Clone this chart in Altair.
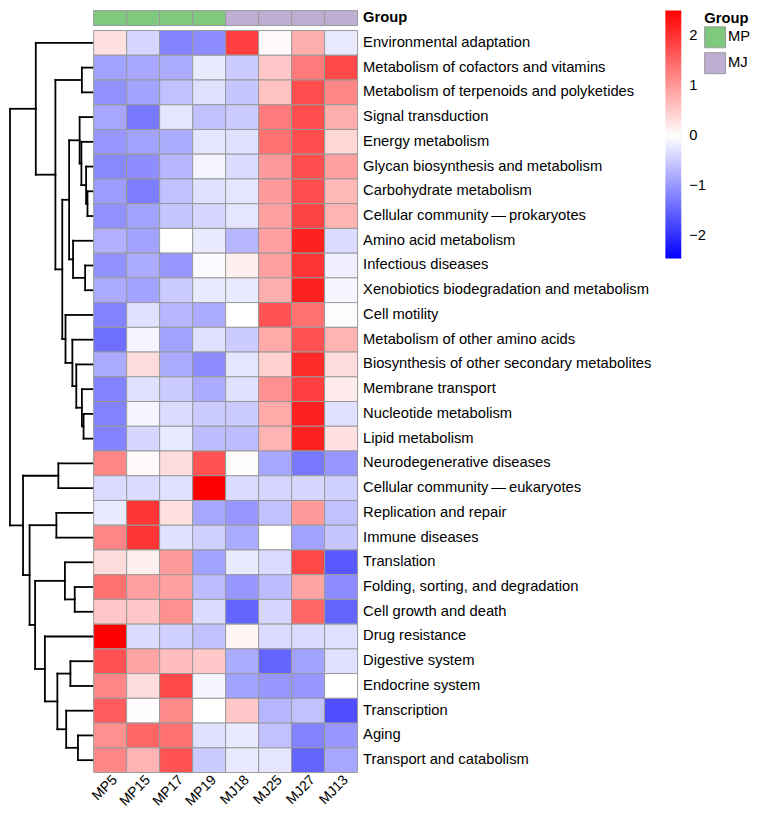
import altair as alt
import pandas as pd

samples = ["MP5", "MP15", "MP17", "MP19", "MJ18", "MJ25", "MJ27", "MJ13"]
sample_groups = ["MP", "MP", "MP", "MP", "MJ", "MJ", "MJ", "MJ"]

pathways = [
    "Environmental adaptation",
    "Metabolism of cofactors and vitamins",
    "Metabolism of terpenoids and polyketides",
    "Signal transduction",
    "Energy metabolism",
    "Glycan biosynthesis and metabolism",
    "Carbohydrate metabolism",
    "Cellular community\u2009\u2014\u2009prokaryotes",
    "Amino acid metabolism",
    "Infectious diseases",
    "Xenobiotics biodegradation and metabolism",
    "Cell motility",
    "Metabolism of other amino acids",
    "Biosynthesis of other secondary metabolites",
    "Membrane transport",
    "Nucleotide metabolism",
    "Lipid metabolism",
    "Neurodegenerative diseases",
    "Cellular community\u2009\u2014\u2009eukaryotes",
    "Replication and repair",
    "Immune diseases",
    "Translation",
    "Folding, sorting, and degradation",
    "Cell growth and death",
    "Drug resistance",
    "Digestive system",
    "Endocrine system",
    "Transcription",
    "Aging",
    "Transport and catabolism",
]

MP5 = [0.3, -0.9, -1.05, -0.85, -1.0, -1.15, -0.95, -1.05, -0.75, -1.05, -0.8, -1.2, -1.4, -0.8, -1.2,
       -1.2, -1.2, 1.2, -0.35, -0.2, 1.2, 0.35, 1.4, 0.55, 2.52, 1.7, 1.2, 1.6, 1.1, 1.2]
MP15 = [-0.4, -0.85, -0.9, -1.3, -0.9, -1.1, -1.25, -0.9, -0.9, -0.8, -0.9, -0.3, -0.1, 0.35, -0.3,
        -0.1, -0.4, 0.05, -0.35, 2.0, 2.0, 0.15, 0.95, 0.55, -0.35, 0.9, 0.35, 0.02, 1.5, 0.75]
MP17 = [-1.2, -0.8, -0.6, -0.25, -0.8, -0.7, -0.6, -0.55, 0.0, -1.0, -0.5, -0.7, -0.9, -0.8, -0.5,
        -0.35, -0.2, 0.35, -0.3, 0.3, -0.3, 1.0, 0.95, 1.1, -0.45, 0.65, 1.8, 1.15, 1.4, 1.7]
MP19 = [-1.1, -0.2, -0.3, -0.6, -0.25, -0.1, -0.3, -0.4, -0.2, -0.05, -0.2, -0.8, -0.3, -1.1, -0.8,
        -0.5, -0.65, 1.7, 2.52, -0.85, -0.45, -0.9, -0.65, -0.35, -0.6, 0.55, -0.1, 0.0, -0.3, -0.5]
MJ18 = [1.9, -0.5, -0.55, -0.5, -0.3, -0.35, -0.25, -0.25, -0.7, 0.15, -0.2, 0.0, -0.5, -0.25, -0.3,
        -0.5, -0.65, 0.03, -0.35, -1.0, -0.8, -0.2, -1.0, -1.5, 0.1, -0.8, -0.9, 0.55, -0.2, -0.2]
MJ25 = [0.05, 0.55, 0.6, 1.3, 1.4, 1.0, 1.0, 0.95, 0.95, 0.95, 0.8, 1.7, 0.85, 0.45, 1.1,
        0.85, 0.75, -0.85, -0.4, -0.6, 0.0, -0.35, -0.65, -0.4, -0.35, -1.5, -1.0, -0.7, -0.6, -0.25]
MJ27 = [0.8, 1.3, 1.75, 1.75, 1.75, 1.75, 1.75, 1.85, 2.2, 2.0, 2.2, 1.4, 1.7, 2.1, 1.9,
        2.2, 2.2, -1.3, -0.4, 1.0, -0.9, 1.8, 0.9, 1.5, -0.35, -0.9, -1.0, -0.6, -1.2, -1.5]
MJ13 = [-0.2, 1.8, 1.2, 0.8, 0.4, 0.95, 0.7, 0.75, -0.35, -0.15, -0.1, -0.03, 0.75, 0.35, 0.2,
        -0.3, 0.3, -1.0, -0.45, -0.6, -0.55, -1.6, -1.1, -1.5, -0.3, -0.3, 0.0, -1.7, -1.0, -0.85]

sample_values = {"MP5": MP5, "MP15": MP15, "MP17": MP17, "MP19": MP19,
                 "MJ18": MJ18, "MJ25": MJ25, "MJ27": MJ27, "MJ13": MJ13}

# row dendrogram merges: (node, left child, right child, merge height)
# children are row indices (leaves) or earlier node names
dend_merges = [
    ("a", 1, 2, 12.0),
    ("g", 6, 7, 6.3),
    ("f", 5, "g", 7.7),
    ("e", 4, "f", 12.5),
    ("b1", 3, "e", 14.3),
    ("h", 9, 10, 8.7),
    ("b2", 8, "h", 21.0),
    ("b", "b1", "b2", 25.0),
    ("l", 15, 16, 10.3),
    ("k", 14, "l", 12.0),
    ("j", 13, "k", 17.7),
    ("i", 12, "j", 21.7),
    ("c", 11, "i", 28.7),
    ("A", "b", "c", 32.0),
    ("n1", "a", "A", 39.0),
    ("n0", 0, "n1", 59.0),
    ("p", 17, 18, 36.0),
    ("s", 19, 20, 38.0),
    ("v", 22, 23, 19.3),
    ("u", 21, "v", 29.3),
    ("y", 25, 26, 23.7),
    ("aa", 28, 29, 16.0),
    ("z", 27, "aa", 28.0),
    ("x", "y", "z", 37.0),
    ("w", 24, "x", 49.7),
    ("t", "u", "w", 59.7),
    ("r", "s", "t", 65.3),
    ("q", "p", "r", 72.0),
    ("root", "n0", "q", 85.3),
]

FONT = "Liberation Sans"
FS = 14.8
n_rows = len(pathways)
cell_h = 745 / n_rows
top_extra = (15 + 5) / cell_h + 0.5

# --- heatmap data
heat_rows = []
for s in samples:
    for i, p in enumerate(pathways):
        heat_rows.append({"sample": s, "pathway": p, "value": sample_values[s][i]})
heat_df = pd.DataFrame(heat_rows)

grp_df = pd.DataFrame({"sample": samples, "Group": sample_groups, "lab": ["Group"] * len(samples)})

# --- dendrogram segments
pos = {i: float(i) for i in range(n_rows)}
hgt = {i: 0.0 for i in range(n_rows)}
segs = []
for name, l, r, h in dend_merges:
    segs.append({"x": h, "x2": h, "y": pos[l], "y2": pos[r]})
    segs.append({"x": h, "x2": hgt[l], "y": pos[l], "y2": pos[l]})
    segs.append({"x": h, "x2": hgt[r], "y": pos[r], "y2": pos[r]})
    pos[name] = (pos[l] + pos[r]) / 2
    hgt[name] = h
seg_df = pd.DataFrame(segs)

dendro = alt.Chart(seg_df).mark_rule(color="black", strokeWidth=1.8, strokeCap="square").encode(
    x=alt.X("x:Q", scale=alt.Scale(domain=[0, 85.3], reverse=True, nice=False, zero=False), axis=None),
    x2="x2:Q",
    y=alt.Y("y:Q", scale=alt.Scale(domain=[-top_extra, n_rows - 0.5], reverse=True, nice=False, zero=False),
            axis=None),
    y2="y2:Q",
).properties(width=84, height=765)

grp = alt.Chart(grp_df).mark_rect(stroke="#999999", strokeWidth=1).encode(
    x=alt.X("sample:N", sort=samples, axis=None, scale=alt.Scale(paddingInner=0, paddingOuter=0)),
    y=alt.Y("lab:N", axis=alt.Axis(orient="right", title=None, ticks=False, domain=False,
                                   labelFontWeight="bold", labelFontSize=FS, labelPadding=5,
                                   labelColor="black", labelFont=FONT)),
    color=alt.Color("Group:N", sort=["MP", "MJ"],
                    scale=alt.Scale(domain=["MP", "MJ"], range=["#7FC97F", "#BEAED4"]),
                    legend=alt.Legend(orient="none", legendX=697, legendY=0, title="Group",
                                      titleFontWeight="bold", titleFontSize=FS, titleFont=FONT,
                                      titleColor="black", titlePadding=1,
                                      labelFontSize=FS, labelFont=FONT, labelColor="black",
                                      symbolType="square", symbolSize=441, symbolStrokeColor="#999999",
                                      symbolStrokeWidth=1, symbolOpacity=1, rowPadding=0,
                                      labelOffset=2, padding=0)),
).properties(width=265, height=15)

heat = alt.Chart(heat_df).mark_rect(stroke="#999999", strokeWidth=1).encode(
    x=alt.X("sample:N", sort=samples, scale=alt.Scale(paddingInner=0, paddingOuter=0),
            axis=alt.Axis(title=None, labelAngle=315, ticks=False, domain=False, labelFontSize=14,
                          labelPadding=0, labelColor="black", labelFont=FONT)),
    y=alt.Y("pathway:N", sort=pathways, scale=alt.Scale(paddingInner=0, paddingOuter=0),
            axis=alt.Axis(orient="right", title=None, ticks=False, domain=False, labelFontSize=FS,
                          labelPadding=5, labelColor="black", labelFont=FONT, labelLimit=400)),
    fill=alt.Fill("value:Q",
                  scale=alt.Scale(domain=[-2.46, 0, 2.52], range=["#0000ff", "#ffffff", "#ff0000"],
                                  interpolate="rgb"),
                  legend=alt.Legend(orient="none", legendX=658, legendY=0, title=None,
                                    gradientLength=249, gradientThickness=16, gradientStrokeWidth=0,
                                    values=[-2, -1, 0, 1, 2], labelFontSize=FS, labelFont=FONT,
                                    labelColor="black", labelOffset=8, labelOverlap=False,
                                    labelExpr="replace(datum.label, '-', '\u2212')", padding=0,
                                    direction="vertical")),
).properties(width=265, height=745)

right = alt.vconcat(grp, heat, spacing=5, bounds="flush")
chart = alt.hconcat(dendro, right, spacing=0, bounds="flush").properties(
    padding={"left": 0, "top": 0, "right": 0, "bottom": 0}
).configure(font=FONT, background="white").configure_view(strokeWidth=0, stroke="transparent")

chart.save("out.html", embed_options={"renderer": "svg", "actions": False})
